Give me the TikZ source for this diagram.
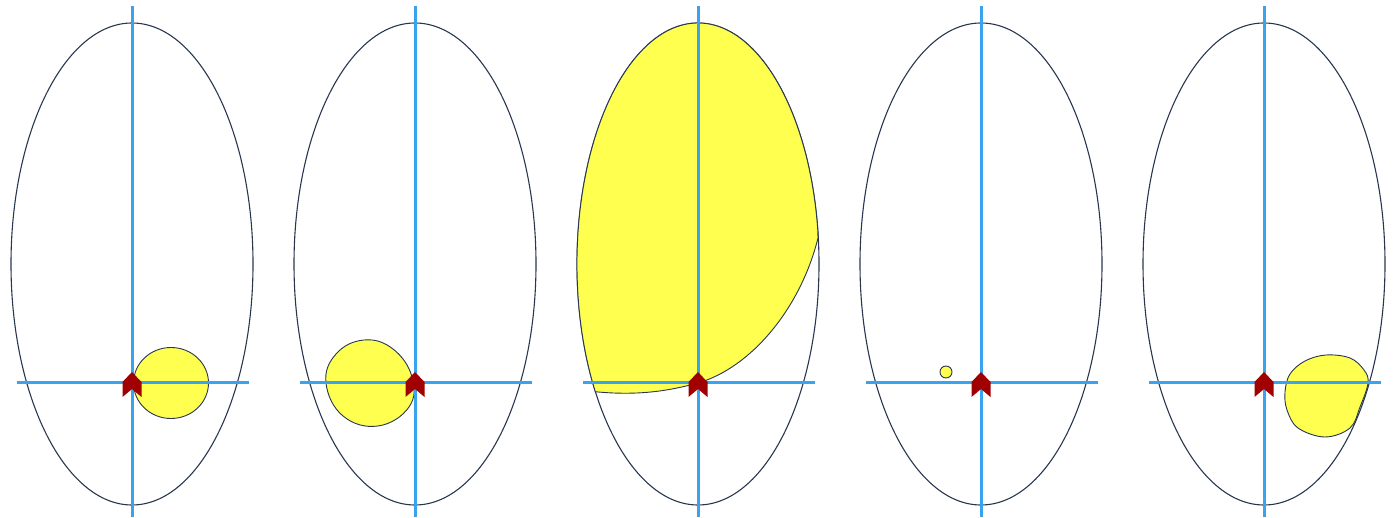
\documentclass[tikz,border=0pt]{standalone}
\definecolor{axisblue}{RGB}{58,163,240}
\definecolor{rimnavy}{RGB}{40,55,80}
\definecolor{blobyellow}{RGB}{255,255,80}
\definecolor{markred}{RGB}{160,0,0}
\tikzset{
  rim/.style={draw=rimnavy, line width=1.1pt},
  blob/.style={fill=blobyellow, draw=rimnavy, line width=0.9pt},
  axisline/.style={draw=axisblue, line width=3pt},
  marker/.style={fill=markred, draw=none}
}
\begin{document}
\begin{tikzpicture}[x=1pt,y=-1pt]
\useasboundingbox (0,0) rectangle (1395,518);
% ellipses
\foreach \c in {132,415,698,981,1264}{
  \draw[rim] (\c,264) ellipse[x radius=121, y radius=241];
}
% blobs
\draw[blob] (171,383) ellipse[x radius=37.5, y radius=35.5];
\draw[blob] plot[smooth cycle, tension=0.7] coordinates {(326,383) (336,354) (364,340) (393,349) (412,377) (409,407) (378,426) (343,416)};
\draw[blob] (817.8,230.5) arc[start angle=-8, end angle=-212, x radius=121, y radius=241]
  .. controls (640,396) and (670,390.5) .. (698,383)
  .. controls (750,368) and (800,310) .. (818,238) -- cycle;
\draw[blob] (946,372) circle[radius=6];
\draw[blob] plot[smooth cycle, tension=0.6] coordinates {(1285,392) (1290,374) (1305,361) (1326,355) (1350,358) (1364,370) (1368,383) (1360,407) (1350,428) (1325,437) (1298,428) (1287,410)};
% axes and markers
\foreach \c in {132,415,698,981,1264}{
  \draw[axisline] (\c,6) -- (\c,517);
  \draw[axisline] (\c-115,383) -- (\c+117,383);
  \fill[marker] (\c,372) -- (\c+9.5,382) -- (\c+9.5,397) -- (\c,389) -- (\c-9.5,397) -- (\c-9.5,382) -- cycle;
}
\end{tikzpicture}
\end{document}
